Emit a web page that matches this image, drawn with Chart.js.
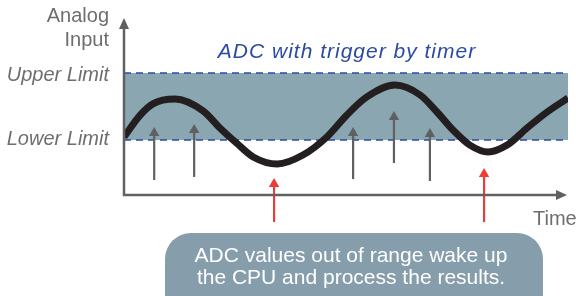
<!DOCTYPE html>
<html>
<head>
<meta charset="utf-8">
<script src="https://cdn.jsdelivr.net/npm/chart.js@4/dist/chart.umd.min.js"></script>
<style>
  html, body { margin: 0; padding: 0; background: #fff; }
  #wrap { width: 576px; height: 296px; position: relative; }
</style>
</head>
<body>
<div id="wrap"><canvas id="adcChart"></canvas></div>
<script>
/* --- Data (time 0..100, analog input 0..100) --- */
const timeX = [0, 3.6, 6.5, 11.5, 17.8, 21.6, 25.5, 29.1, 34.5, 40.3, 45.7, 50.2,
               54.7, 61.0, 66.7, 70.5, 74.1, 77.9, 82.0, 86.3, 90.8, 95.3, 100];
const signal = [32.8, 45.0, 51.5, 54.2, 47.5, 37.9, 29.0, 21.5, 17.5, 22.6, 32.8, 45.2,
                55.4, 62.1, 56.5, 46.9, 36.7, 28.2, 24.3, 28.2, 37.9, 46.9, 54.8];
const upperLimit = 68.9;
const lowerLimit = 31.1;

// timer triggered samples (gray arrows), in range
const sampleX = [6.8, 15.8, 51.6, 60.8, 68.9];
const sampleFrom = [8.5, 10.2, 9.0, 18.1, 7.9];
const sampleTo = [35.0, 36.7, 35.0, 44.1, 34.5];

// out of range samples (red arrows)
const wakeX = [33.8, 81.1];
const wakeFrom = [-15.3, -15.3];
const wakeTo = [6.2, 11.9];

const labels = {
    title: 'ADC with trigger by timer',
    yTitle: ['Analog', 'Input'],
    upper: 'Upper Limit',
    lower: 'Lower Limit',
    xTitle: 'Time',
    note: ['ADC values out of range wake up', 'the CPU and process the results.']
};

/* --- Colors --- */
const BAND = '#8aa6b1';
const NOTE = '#869eab';
const LIMIT = '#2b4ba3';
const AXIS = '#606163';
const SAMPLE = '#5f6062';
const WAKE = '#ef3b36';
const CURVE = '#231f20';
const TEXT = '#6d6e70';
const FONT = '"Liberation Sans", Arial, sans-serif';

function arrowSet(x, from, to, color, clip) {
    return {
        data: [{ x: x, y: from }, { x: x, y: to }],
        borderColor: color,
        backgroundColor: color,
        borderWidth: 2.2,
        pointStyle: 'triangle',
        pointRadius: ctx => ctx.dataIndex === 1 ? 6 : 0,
        pointBorderWidth: 0,
        pointBackgroundColor: color,
        fill: false,
        clip: clip,
        order: 2
    };
}

const datasets = [];
datasets.push({
    data: timeX.map((x, i) => ({ x: x, y: signal[i] })),
    borderColor: CURVE,
    borderWidth: 7,
    cubicInterpolationMode: 'monotone',
    pointRadius: 0,
    fill: false,
    order: 1
});
sampleX.forEach((x, i) => datasets.push(arrowSet(x, sampleFrom[i], sampleTo[i], SAMPLE, undefined)));
wakeX.forEach((x, i) => datasets.push(arrowSet(x, wakeFrom[i], wakeTo[i], WAKE, false)));
datasets.push({
    data: [{ x: 0, y: upperLimit }, { x: 100, y: upperLimit }],
    borderColor: LIMIT,
    borderWidth: 1.4,
    borderDash: [7, 5],
    pointRadius: 0,
    fill: false,
    order: 3
});
datasets.push({
    data: [{ x: 0, y: lowerLimit }, { x: 100, y: lowerLimit }],
    borderColor: LIMIT,
    borderWidth: 1.4,
    borderDash: [7, 5],
    pointRadius: 0,
    fill: '-1',
    backgroundColor: BAND,
    order: 4
});

/* --- Axes, labels and the callout --- */
const diagramPlugin = {
    id: 'diagram',
    afterDraw(chart) {
        const { ctx, chartArea: a, scales } = chart;
        const sy = scales.y;
        ctx.save();

        // axes with arrow heads
        ctx.strokeStyle = AXIS;
        ctx.fillStyle = AXIS;
        ctx.lineWidth = 2.5;
        ctx.beginPath();
        ctx.moveTo(a.left, a.top + 8);
        ctx.lineTo(a.left, a.bottom);
        ctx.lineTo(a.right - 8, a.bottom);
        ctx.stroke();
        ctx.beginPath();
        ctx.moveTo(a.left, a.top);
        ctx.lineTo(a.left - 5, a.top + 11);
        ctx.lineTo(a.left + 5, a.top + 11);
        ctx.closePath();
        ctx.fill();
        ctx.beginPath();
        ctx.moveTo(a.right - 1, a.bottom);
        ctx.lineTo(a.right - 12, a.bottom - 5);
        ctx.lineTo(a.right - 12, a.bottom + 5);
        ctx.closePath();
        ctx.fill();

        // title
        ctx.textBaseline = 'middle';
        ctx.textAlign = 'center';
        ctx.fillStyle = LIMIT;
        ctx.font = 'italic 21px ' + FONT;
        ctx.letterSpacing = '1px';
        ctx.fillText(labels.title, 347, 52);
        ctx.letterSpacing = '0px';

        // left labels
        ctx.textAlign = 'right';
        ctx.fillStyle = TEXT;
        ctx.font = '20px ' + FONT;
        ctx.fillText(labels.yTitle[0], 109, 16);
        ctx.fillText(labels.yTitle[1], 109, 40);
        ctx.font = 'italic 20px ' + FONT;
        ctx.fillText(labels.upper, 109, sy.getPixelForValue(upperLimit) + 2);
        ctx.fillText(labels.lower, 109, sy.getPixelForValue(lowerLimit) - 1);

        // x title
        ctx.textAlign = 'left';
        ctx.font = '20px ' + FONT;
        ctx.fillText(labels.xTitle, 533, 219);

        // callout
        const bx = 165, by = 233, bw = 378, bh = 90, r = 26;
        ctx.fillStyle = NOTE;
        ctx.beginPath();
        ctx.roundRect(bx, by, bw, bh, r);
        ctx.fill();
        ctx.fillStyle = '#ffffff';
        ctx.textAlign = 'center';
        ctx.font = '21px ' + FONT;
        ctx.fillText(labels.note[0], 351, by + 23);
        ctx.fillText(labels.note[1], 351, by + 45);

        ctx.restore();
    }
};

new Chart(document.getElementById('adcChart').getContext('2d'), {
    type: 'line',
    data: { datasets: datasets },
    options: {
        responsive: true,
        maintainAspectRatio: false,
        animation: false,
        layout: { padding: { left: 124, right: 8, top: 18, bottom: 101 } },
        scales: {
            x: { type: 'linear', min: 0, max: 100, display: false },
            y: { type: 'linear', min: 0, max: 100, display: false }
        },
        plugins: {
            legend: { display: false },
            tooltip: { enabled: false }
        }
    },
    plugins: [diagramPlugin]
});
</script>
</body>
</html>
